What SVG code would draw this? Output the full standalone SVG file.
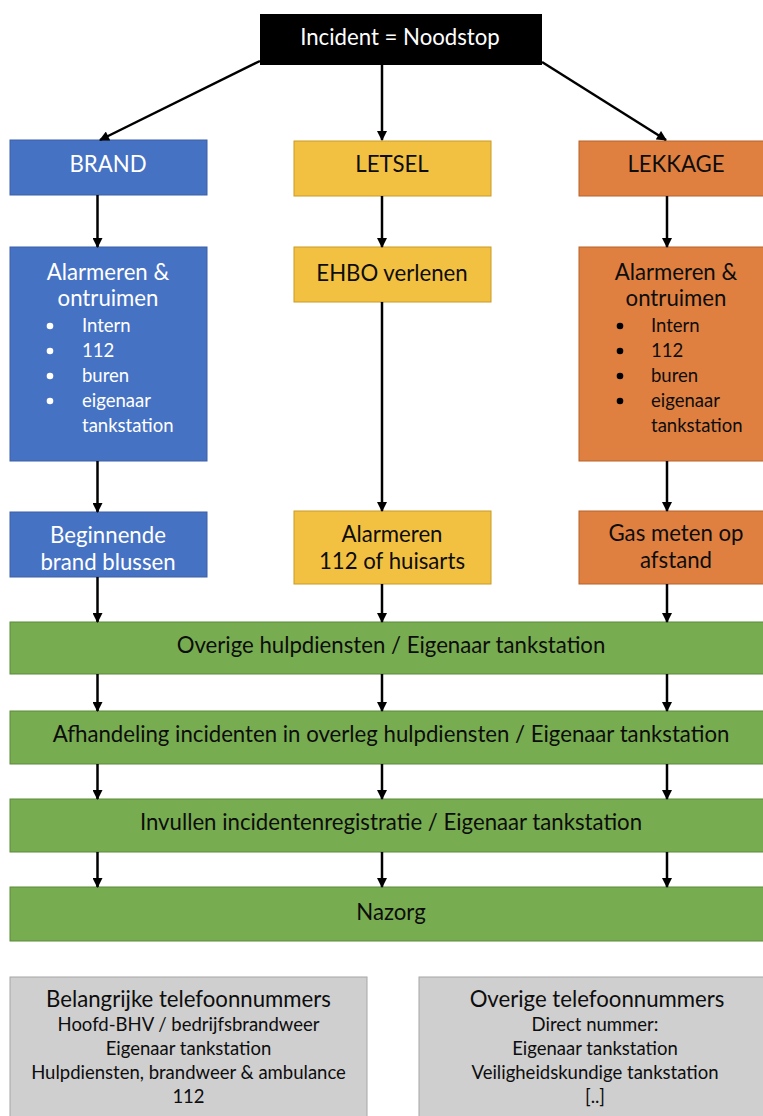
<svg xmlns="http://www.w3.org/2000/svg" width="763" height="1116" viewBox="0 0 763 1116">
<style>
text{font-family:Lato,"Liberation Sans",sans-serif;text-anchor:middle}
.big{font-size:22.2px}
.sm{font-size:18.5px}
.lst{font-size:18.5px;text-anchor:start}
.w{fill:#ffffff}
.k{fill:#0d0d0d}
.blue{fill:#4672C4;stroke:#3A5FA3;stroke-width:1}
.yel{fill:#F3C142;stroke:#C99A22;stroke-width:1}
.org{fill:#E08040;stroke:#B6622A;stroke-width:1}
.grn{fill:#78AC50;stroke:#5B8A3A;stroke-width:1}
.gry{fill:#CFCFCF;stroke:#A6A6A6;stroke-width:1}
.con line{stroke:#000;stroke-width:2.5;marker-end:url(#ah)}
</style>
<defs>
<marker id="ah" viewBox="0 0 10 10" refX="9" refY="5" markerWidth="11" markerHeight="10" markerUnits="userSpaceOnUse" orient="auto"><path d="M0,0 L10,5 L0,10 z" fill="#000"/></marker>
</defs>
<rect width="763" height="1116" fill="#ffffff"/>

<g id="incident">
<rect x="260" y="14" width="282" height="51" fill="#000"/>
<text class="big w" x="400" y="45">Incident = Noodstop</text>
</g>

<g id="brand">
<rect class="blue" x="10" y="140" width="197" height="55"/>
<text class="big w" x="108" y="172">BRAND</text>
</g>
<g id="letsel">
<rect class="yel" x="294" y="141" width="197" height="55"/>
<text class="big k" x="392" y="172">LETSEL</text>
</g>
<g id="lekkage">
<rect class="org" x="579" y="141" width="197" height="55"/>
<text class="big k" x="676" y="172">LEKKAGE</text>
</g>

<g id="brand-alarm">
<rect class="blue" x="10" y="247" width="197" height="214"/>
<text class="big w" x="108" y="280">Alarmeren &amp;</text>
<text class="big w" x="108" y="306">ontruimen</text>
<g fill="#fff"><circle cx="50" cy="326" r="3.3"/><circle cx="50" cy="351" r="3.3"/><circle cx="50" cy="376" r="3.3"/><circle cx="50" cy="401" r="3.3"/></g>
<text class="lst w" x="82" y="332">Intern</text>
<text class="lst w" x="82" y="357">112</text>
<text class="lst w" x="82" y="382">buren</text>
<text class="lst w" x="82" y="407">eigenaar</text>
<text class="lst w" x="82" y="432">tankstation</text>
</g>
<g id="ehbo">
<rect class="yel" x="294" y="247" width="197" height="55"/>
<text class="big k" x="392" y="281">EHBO verlenen</text>
</g>
<g id="lekkage-alarm">
<rect class="org" x="579" y="247" width="197" height="214"/>
<text class="big k" x="676" y="280">Alarmeren &amp;</text>
<text class="big k" x="676" y="306">ontruimen</text>
<g fill="#000"><circle cx="620" cy="326" r="3.3"/><circle cx="620" cy="351" r="3.3"/><circle cx="620" cy="376" r="3.3"/><circle cx="620" cy="401" r="3.3"/></g>
<text class="lst k" x="651" y="332">Intern</text>
<text class="lst k" x="651" y="357">112</text>
<text class="lst k" x="651" y="382">buren</text>
<text class="lst k" x="651" y="407">eigenaar</text>
<text class="lst k" x="651" y="432">tankstation</text>
</g>

<g id="blussen">
<rect class="blue" x="10" y="512" width="197" height="65"/>
<text class="big w" x="108" y="543">Beginnende</text>
<text class="big w" x="108" y="570">brand blussen</text>
</g>
<g id="alarm-112">
<rect class="yel" x="294" y="511" width="197" height="73"/>
<text class="big k" x="392" y="542">Alarmeren</text>
<text class="big k" x="392" y="569">112 of huisarts</text>
</g>
<g id="gas">
<rect class="org" x="579" y="511" width="197" height="73"/>
<text class="big k" x="676" y="541">Gas meten op</text>
<text class="big k" x="676" y="568">afstand</text>
</g>

<g id="hulpdiensten">
<rect class="grn" x="10" y="622" width="762" height="52"/>
<text class="big k" x="391" y="653">Overige hulpdiensten / Eigenaar tankstation</text>
</g>
<g id="afhandeling">
<rect class="grn" x="10" y="711" width="762" height="53"/>
<text class="big k" x="391" y="742">Afhandeling incidenten in overleg hulpdiensten / Eigenaar tankstation</text>
</g>
<g id="registratie">
<rect class="grn" x="10" y="799" width="762" height="53"/>
<text class="big k" x="391" y="830">Invullen incidentenregistratie / Eigenaar tankstation</text>
</g>
<g id="nazorg">
<rect class="grn" x="10" y="887" width="762" height="54"/>
<text class="big k" x="391" y="920">Nazorg</text>
</g>

<g id="belangrijke">
<rect class="gry" x="10" y="977" width="357" height="150"/>
<text class="big k" x="188.5" y="1007">Belangrijke telefoonnummers</text>
<text class="sm k" x="188.5" y="1031">Hoofd-BHV / bedrijfsbrandweer</text>
<text class="sm k" x="188.5" y="1055">Eigenaar tankstation</text>
<text class="sm k" x="188.5" y="1079">Hulpdiensten, brandweer &amp; ambulance</text>
<text class="sm k" x="188.5" y="1103">112</text>
</g>
<g id="overige">
<rect class="gry" x="419" y="977" width="357" height="150"/>
<text class="big k" x="597" y="1007">Overige telefoonnummers</text>
<text class="sm k" x="595" y="1031">Direct nummer:</text>
<text class="sm k" x="595" y="1055">Eigenaar tankstation</text>
<text class="sm k" x="595" y="1079">Veiligheidskundige tankstation</text>
<text class="sm k" x="595" y="1103">[..]</text>
</g>

<g id="connectors" class="con">
<line x1="260" y1="61" x2="100" y2="140"/>
<line x1="382" y1="65" x2="382" y2="140"/>
<line x1="542" y1="62" x2="666" y2="140"/>
<line x1="97.5" y1="195" x2="97.5" y2="247"/>
<line x1="382" y1="196" x2="382" y2="247"/>
<line x1="667" y1="196" x2="667" y2="247"/>
<line x1="97.5" y1="461" x2="97.5" y2="512"/>
<line x1="382" y1="302" x2="382" y2="511"/>
<line x1="667" y1="461" x2="667" y2="511"/>
<line x1="97.5" y1="577" x2="97.5" y2="622"/>
<line x1="382" y1="584" x2="382" y2="622"/>
<line x1="667" y1="584" x2="667" y2="622"/>
<line x1="97.5" y1="674" x2="97.5" y2="711"/>
<line x1="382" y1="674" x2="382" y2="711"/>
<line x1="667" y1="674" x2="667" y2="711"/>
<line x1="97.5" y1="764" x2="97.5" y2="799"/>
<line x1="382" y1="764" x2="382" y2="799"/>
<line x1="667" y1="764" x2="667" y2="799"/>
<line x1="97.5" y1="852" x2="97.5" y2="887"/>
<line x1="382" y1="852" x2="382" y2="887"/>
<line x1="667" y1="852" x2="667" y2="887"/>
</g>
</svg>
